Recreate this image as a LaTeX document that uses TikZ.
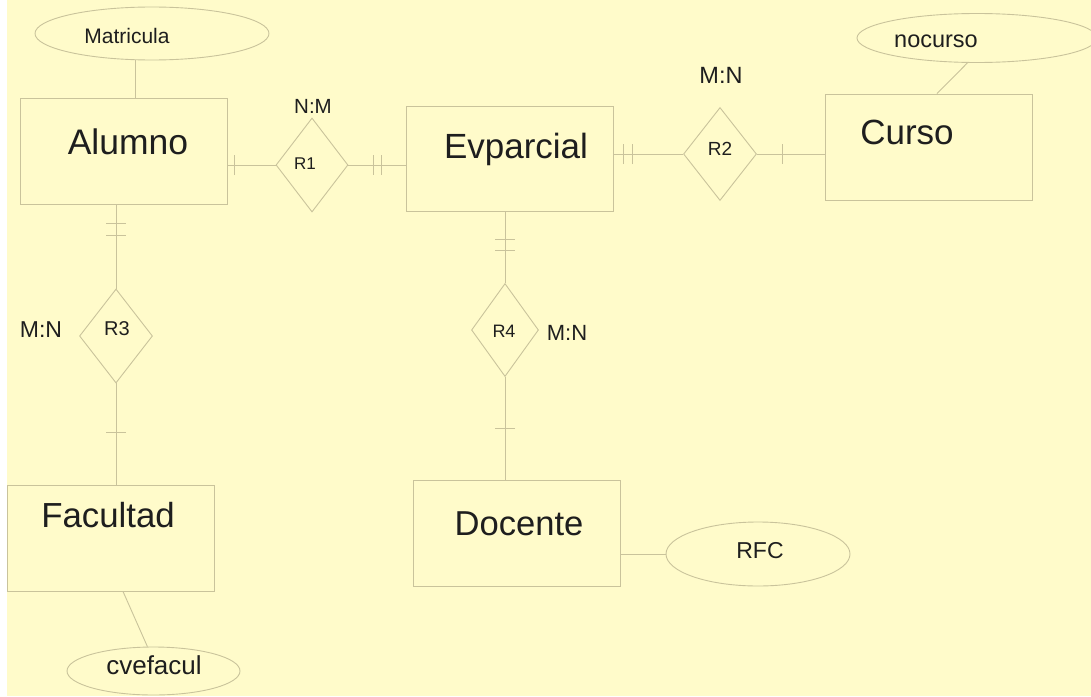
\documentclass[tikz,border=0pt]{standalone}
\usepackage{fontspec}
\setmainfont{Liberation Sans}
\usetikzlibrary{shapes.geometric,decorations.markings,calc}
\definecolor{bgc}{HTML}{FFFBCA}
\definecolor{lnc}{HTML}{C9C39B}
\definecolor{txc}{HTML}{1E1E1E}
\begin{document}
\begin{tikzpicture}[x=1pt,y=-1pt,
 erline/.style={draw=lnc,line width=0.9pt},
 entity/.style={rectangle,erline,minimum width=207pt,minimum height=106pt,inner sep=0pt},
 attrib/.style={ellipse,erline,inner sep=0pt},
 rel/.style={diamond,erline,inner sep=0pt},
 lbl/.style={text=txc,inner sep=0pt,anchor=base,font=\fontsize{#1}{#1}\selectfont},
 onetick/.style={postaction={decorate},decoration={markings,mark=at position #1 with {\draw[erline] (0pt,-10pt) -- (0pt,10pt);}}},
 twoticks/.style 2 args={postaction={decorate},decoration={markings,mark=at position #1 with {\draw[erline] (0pt,-10pt) -- (0pt,10pt);},mark=at position #2 with {\draw[erline] (0pt,-10pt) -- (0pt,10pt);}}},
]
\useasboundingbox (0,0) rectangle (1091,696);
\fill[white] (0,0) rectangle (1091,696);
\fill[bgc] (7,0) rectangle (1091,696);

% entities
\node[entity] (Alumno) at (123.5,151) {};
\node[entity,minimum height=105pt] (Evp) at (509.5,158.5) {};
\node[entity] (Curso) at (928.5,147) {};
\node[entity] (Fac) at (110.5,538) {};
\node[entity] (Doc) at (516.5,533) {};

% attributes
\node[attrib,minimum width=234pt,minimum height=53pt] (Mat) at (152,33.5) {};
\node[attrib,minimum width=240pt,minimum height=49pt] (noc) at (977,38) {};
\node[attrib,minimum width=173pt,minimum height=48pt] (cve) at (153.5,671) {};
\node[attrib,minimum width=184pt,minimum height=64pt] (RFC) at (758,554) {};

% relationships
\node[rel,minimum width=72pt,minimum height=94pt] (R1) at (312,165) {};
\node[rel,minimum width=73pt,minimum height=93pt] (R2) at (720,154) {};
\node[rel,minimum width=73pt,minimum height=94pt] (R3) at (116,336) {};
\node[rel,minimum width=67pt,minimum height=93pt] (R4) at (505,330) {};

% texts
\node[lbl=35.5] (tAlumno) at (128,154) {Alumno};
\node[lbl=35] (tEvp) at (516,158) {Evparcial};
\node[lbl=35] (tCurso) at (907,144) {Curso};
\node[lbl=34.8] (tFac) at (108,527) {Facultad};
\node[lbl=34.6] (tDoc) at (519,535) {Docente};
\node[lbl=21] (tMat) at (127,43) {Matricula};
\node[lbl=23.5] (tnoc) at (936,47) {nocurso};
\node[lbl=26] (tcve) at (154,674) {cvefacul};
\node[lbl=23] (tRFC) at (760,558) {RFC};
\node[lbl=17] (tR1) at (305,169) {R1};
\node[lbl=19] (tR2) at (720,155) {R2};
\node[lbl=20] (tR3) at (117,335) {R3};
\node[lbl=18] (tR4) at (504,337) {R4};
\node[lbl=20.5] (cR1) at (313,113) {N:M};
\node[lbl=23.5] (cR2) at (721,83) {M:N};
\node[lbl=23] (cR3) at (41,337) {M:N};
\node[lbl=22] (cR4) at (567,340) {M:N};

% connectors
\draw[erline,onetick=7pt] (R1.west -| Alumno.east) -- (R1.west);
\draw[erline,twoticks={24pt}{32pt}] (R1.east -| Evp.west) -- (R1.east);
\draw[erline,twoticks={10pt}{19pt}] (R2.west -| Evp.east) -- (R2.west);
\draw[erline,onetick=42pt] (R2.east -| Curso.west) -- (R2.east);
\draw[erline,twoticks={19pt}{31pt}] (R3.north |- Alumno.south) -- (R3.north);
\draw[erline,onetick=52pt] (R3.south |- Fac.north) -- (R3.south);
\draw[erline,twoticks={28pt}{39pt}] (R4.north |- Evp.south) -- (R4.north);
\draw[erline,onetick=51pt] (R4.south |- Doc.north) -- (R4.south);
\draw[erline] (Doc.east |- RFC.west) -- (RFC.west);
\draw[erline] (Mat.238) -- (Mat.238 |- Alumno.north);
\draw[erline] (noc.249) -- ([xshift=8.5pt]Curso.north);
\draw[erline] ([xshift=12.5pt]Fac.south) -- (cve.104);
\end{tikzpicture}
\end{document}
